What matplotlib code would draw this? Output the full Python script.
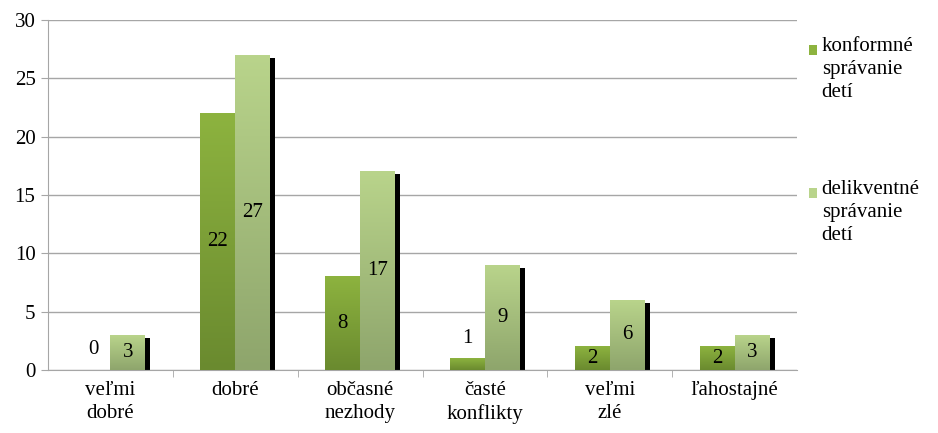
import numpy as np
import matplotlib.pyplot as plt
from matplotlib.colors import LinearSegmentedColormap
from matplotlib.patches import Rectangle

FONT = 'Liberation Serif'
plt.rcParams['font.family'] = FONT

# Údaje
categories = ['veľmi\ndobré', 'dobré', 'občasné\nnezhody', 'časté\nkonflikty', 'veľmi\nzlé', 'ľahostajné']
konformne = [0, 22, 8, 1, 2, 2]
delikventne = [3, 27, 17, 9, 6, 3]
series_names = ['konformné\nsprávanie\ndetí', 'delikventné\nsprávanie\ndetí']

# Farby (hore, dole)
green_top, green_bot = '#8db33f', '#6a8a2f'
light_top, light_bot = '#b9d48b', '#8ea56c'

fig = plt.figure(figsize=(9.38, 4.33), dpi=100)
ax = fig.add_axes([0.0512, 0.1455, 0.7985, 0.8083])

x = np.arange(len(categories))
w = 0.28
bars1 = ax.bar(x - w / 2, konformne, w, color='none', zorder=3)
bars2 = ax.bar(x + w / 2, delikventne, w, color='none', zorder=3)
# tieň za svetlými stĺpcami
ax.bar(x + w + 0.02, np.array(delikventne) - 0.05, 0.04, bottom=-0.18,
       color='black', zorder=2)


def gradient(bars, top, bot):
    cmap = LinearSegmentedColormap.from_list('g', [bot, top])
    grad = np.linspace(0, 1, 256).reshape(-1, 1)
    for b in bars:
        h = b.get_height()
        if h <= 0:
            continue
        x0 = b.get_x()
        ax.imshow(grad, extent=(x0, x0 + b.get_width(), 0, h), origin='lower',
                  cmap=cmap, aspect='auto', zorder=3)


gradient(bars1, green_top, green_bot)
gradient(bars2, light_top, light_bot)

# Popisky hodnôt
for bars, vals in [(bars1, konformne), (bars2, delikventne)]:
    for b, v in zip(bars, vals):
        cx = b.get_x() + b.get_width() / 2
        if v >= 2:
            ax.text(cx, v / 2, str(v), ha='center', va='center', fontsize=15,
                    family=FONT, zorder=5)
        else:
            ax.text(cx, v + 0.9, str(v), ha='center', va='bottom', fontsize=15,
                    family=FONT, zorder=5)

ax.set_xlim(-0.5, len(categories) - 0.5)
ax.set_ylim(0, 30)
ax.set_yticks(range(0, 31, 5))
ax.yaxis.grid(True, color='#a6a6a6', linewidth=1)
ax.set_axisbelow(True)

ax.set_xticks(x)
ax.set_xticklabels(categories, fontsize=15, linespacing=1.3, family=FONT)
ax.set_xticks(np.arange(0.5, len(categories) - 1, 1), minor=True)
ax.tick_params(axis='x', which='major', length=0, pad=8)
ax.tick_params(axis='x', which='minor', length=5, color='#a6a6a6')
ax.tick_params(axis='y', length=5, color='#a6a6a6', labelsize=15, pad=4)
for lbl in ax.get_yticklabels():
    lbl.set_fontfamily(FONT)

for s in ['top', 'right']:
    ax.spines[s].set_visible(False)
ax.spines['left'].set_color('#a6a6a6')
ax.spines['bottom'].set_color('#a6a6a6')

# Legenda
leg_y = [0.885, 0.555]
leg_cols = [green_top, light_top]
for yy, col, name in zip(leg_y, leg_cols, series_names):
    fig.patches.append(Rectangle((0.862, yy - 0.012), 0.0095, 0.022, transform=fig.transFigure,
                                 facecolor=col, edgecolor='none'))
    fig.text(0.876, yy + 0.03, name, fontsize=15, va='top', ha='left', linespacing=1.3,
             family=FONT)

plt.savefig('out.png', dpi=100)
